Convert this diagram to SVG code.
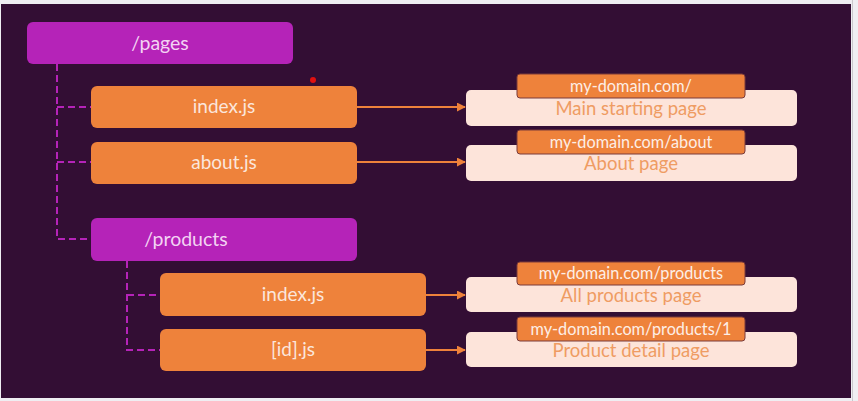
<svg xmlns="http://www.w3.org/2000/svg" width="858" height="401" viewBox="0 0 858 401">
<defs>
<style>
.dir{fill:#b523b8;}
.file{fill:#ee823b;}
.page{fill:#fde4da;}
.tag{fill:#ee823b;stroke:#7a3a3a;stroke-width:1;}
.t{font-family:Lato,"Open Sans",sans-serif;text-anchor:middle;}
.tdir{fill:#f3d3f3;font-size:19.5px;}
.tfile{fill:#fbe6dc;font-size:19px;}
.ttag{fill:#fdeee6;font-size:16.3px;}
.tpage{fill:#ef9c63;font-size:18.5px;}
.dash{fill:none;stroke:#b523b8;stroke-width:2;stroke-dasharray:7,4;}
.arr{fill:none;stroke:#ee823b;stroke-width:2;marker-end:url(#ah);}
</style>
<marker id="ah" viewBox="0 0 10 10" refX="9" refY="5" markerWidth="4.5" markerHeight="4.5" orient="auto" markerUnits="strokeWidth">
<path d="M0,0 L10,5 L0,10 z" fill="#ee823b"/>
</marker>
</defs>
<rect x="0" y="0" width="858" height="401" fill="#efeef2"/>
<rect x="1" y="4" width="850" height="394" fill="#330e34"/>
<line x1="852.5" y1="0" x2="852.5" y2="401" stroke="#c9c8cc" stroke-width="1"/>

<g id="connectors">
<path class="dash" d="M57,64 V239 H91"/>
<path class="dash" d="M57,107 H91"/>
<path class="dash" d="M57,162 H91"/>
<path class="dash" d="M127,261 V350 H160"/>
<path class="dash" d="M127,295 H160"/>
<line class="arr" x1="357" y1="107" x2="465" y2="107"/>
<line class="arr" x1="357" y1="162" x2="465" y2="162"/>
<line class="arr" x1="426" y1="295" x2="465" y2="295"/>
<line class="arr" x1="426" y1="350" x2="465" y2="350"/>
</g>

<g id="pages">
<rect class="dir" x="27" y="22" width="266" height="42" rx="6"/>
<text class="t tdir" x="160" y="50">/pages</text>
</g>
<g id="index-js">
<rect class="file" x="91" y="86" width="266" height="42" rx="6"/>
<text class="t tfile" x="224" y="113">index.js</text>
</g>
<g id="about-js">
<rect class="file" x="91" y="142" width="266" height="42" rx="6"/>
<text class="t tfile" x="224" y="169">about.js</text>
</g>
<g id="products">
<rect class="dir" x="91" y="218" width="266" height="43" rx="6"/>
<text class="t tdir" x="186" y="246">/products</text>
</g>
<g id="products-index-js">
<rect class="file" x="160" y="273" width="266" height="43" rx="6"/>
<text class="t tfile" x="293" y="301">index.js</text>
</g>
<g id="id-js">
<rect class="file" x="160" y="329" width="266" height="42" rx="6"/>
<text class="t tfile" x="293" y="356">[id].js</text>
</g>

<g id="main-page">
<rect class="page" x="466" y="90" width="331" height="36" rx="5"/>
<text class="t tpage" x="631" y="115">Main starting page</text>
<rect class="tag" x="517" y="74" width="228" height="24" rx="3"/>
<text class="t ttag" x="631" y="91.5">my-domain.com/</text>
</g>
<g id="about-page">
<rect class="page" x="466" y="145" width="331" height="36" rx="5"/>
<text class="t tpage" x="631" y="170">About page</text>
<rect class="tag" x="517" y="130" width="228" height="24" rx="3"/>
<text class="t ttag" x="631" y="147.5">my-domain.com/about</text>
</g>
<g id="products-page">
<rect class="page" x="466" y="277" width="331" height="35" rx="5"/>
<text class="t tpage" x="631" y="302">All products page</text>
<rect class="tag" x="517" y="262" width="228" height="23" rx="3"/>
<text class="t ttag" x="631" y="279">my-domain.com/products</text>
</g>
<g id="detail-page">
<rect class="page" x="466" y="332" width="331" height="35" rx="5"/>
<text class="t tpage" x="631" y="357">Product detail page</text>
<rect class="tag" x="517" y="317" width="228" height="24" rx="3"/>
<text class="t ttag" x="631" y="334.5">my-domain.com/products/1</text>
</g>

<circle cx="313" cy="80" r="3" fill="#e01010"/>
</svg>
